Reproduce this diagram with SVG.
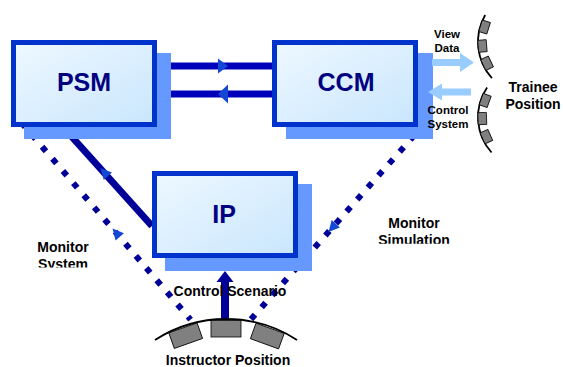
<svg xmlns="http://www.w3.org/2000/svg" width="563" height="367" viewBox="0 0 563 367">
  <defs>
    <linearGradient id="boxFill" x1="0" y1="0" x2="1" y2="1">
      <stop offset="0" stop-color="#eef8ff"/>
      <stop offset="1" stop-color="#c9e6fd"/>
    </linearGradient>
    <clipPath id="clipSystem"><rect x="0" y="230" width="140" height="37.5"/></clipPath>
    <clipPath id="clipSimulation"><rect x="340" y="200" width="140" height="43.8"/></clipPath>
    <path id="head" d="M6,0 L-5,-5.5 L-5,5.5 Z"/>
  </defs>
  <style>
    .shadow{fill:#6699ff}
    .box{fill:url(#boxFill);stroke:#0033cc;stroke-width:5}
    .title{font-family:"Liberation Sans",Arial,sans-serif;font-weight:bold;font-size:25px;fill:#000080;text-anchor:middle}
    .label{font-family:"Liberation Sans",Arial,sans-serif;font-weight:bold;font-size:14px;fill:#000;text-anchor:middle}
    .small{font-size:11.5px}
    .link{fill:none;stroke:#0000bb;stroke-width:7}
    .diag{fill:none;stroke:#000099;stroke-width:7}
    .dots{fill:none;stroke:#000099;stroke-width:6;stroke-dasharray:6 10}
    .head{fill:#1447d4}
    .navy{fill:#000099}
    .light{fill:#99ccff}
    .seat{fill:#808080;stroke:#000;stroke-width:0.8}
    .rim{fill:none;stroke:#000;stroke-width:1.8}
  </style>

  <!-- connectors (drawn beneath the boxes) -->
  <g id="connectors">
    <!-- PSM <-> CCM -->
    <path class="link" d="M171,66 H272"/>
    <path class="head" d="M218,58.5 L228,66 L218,73.5 Z"/>
    <path class="link" d="M171,94 H272"/>
    <path class="head" d="M218,94 L228,84.5 L228,103.5 Z"/>
    <!-- IP -> PSM -->
    <path class="diag" d="M63,127 L152,226"/>
    <use href="#head" class="head" transform="translate(104.5,172.5) rotate(228)"/>
    <!-- Monitor System -->
    <path class="dots" d="M21.2,122.4 L190.6,319.6"/>
    <use href="#head" class="head" transform="translate(116.5,233) rotate(229.3)"/>
    <!-- Monitor Simulation -->
    <path class="dots" d="M414.3,135.2 L250.3,320"/>
    <use href="#head" class="head" transform="translate(332.5,227.5) rotate(131.6)"/>
    <!-- Control Scenario -->
    <path d="M225,319 V281" fill="none" stroke="#000099" stroke-width="8"/>
    <path class="navy" d="M225,271 L233.5,282 L216.5,282 Z"/>
  </g>

  <g id="psm">
    <rect class="shadow" x="24" y="53" width="147" height="86"/>
    <rect class="box" x="13.5" y="42.5" width="141" height="82"/>
    <text class="title" x="84" y="90.5">PSM</text>
  </g>

  <g id="ccm">
    <rect class="shadow" x="286" y="53" width="147" height="86"/>
    <rect class="box" x="274.5" y="42.5" width="141" height="82"/>
    <text class="title" x="346" y="90.5">CCM</text>
  </g>

  <g id="ip">
    <rect class="shadow" x="165" y="184" width="147" height="87"/>
    <rect class="box" x="154.5" y="173.5" width="141" height="82"/>
    <text class="title" x="224" y="223">IP</text>
  </g>

  <!-- CCM <-> trainee data flows -->
  <g id="trainee-links">
    <path class="light" d="M432,59 H460 V53 L474,62.5 L460,72 V66 H432 Z"/>
    <path class="light" d="M471,88.5 H442 V83.5 L428,92 L442,100.5 V95.5 H471 Z"/>
  </g>

  <g id="trainee">
    <g transform="translate(532,42)">
      <path class="rim" d="M-46.8,-27 A54,54 0 0 0 -40.1,36.1"/>
      <rect class="seat" x="-54" y="-6" width="8.5" height="12" transform="rotate(17.5)"/>
      <rect class="seat" x="-54" y="-6" width="8.5" height="12" transform="rotate(-4.6)"/>
      <rect class="seat" x="-54" y="-6" width="8.5" height="12" transform="rotate(-25.3)"/>
    </g>
    <g transform="translate(531,117)">
      <path class="rim" d="M-43.9,-29.6 A53,53 0 0 0 -39.4,35.5"/>
      <rect class="seat" x="-53" y="-6" width="8.5" height="12" transform="rotate(19.8)"/>
      <rect class="seat" x="-53" y="-6" width="8.5" height="12" transform="rotate(-1.8)"/>
      <rect class="seat" x="-53" y="-6" width="8.5" height="12" transform="rotate(-23.8)"/>
    </g>
    <text class="label" x="533" y="92">Trainee</text>
    <text class="label" x="533" y="109">Position</text>
  </g>

  <g id="instructor">
    <path class="rim" d="M155,340 A130.5,130.5 0 0 1 297,340"/>
    <g transform="translate(226,449.5)">
      <rect class="seat" x="-15" y="-129" width="30" height="16.5" transform="rotate(-19.5)"/>
      <rect class="seat" x="-15" y="-129" width="30" height="16.5"/>
      <rect class="seat" x="-15" y="-129" width="30" height="16.5" transform="rotate(20)"/>
    </g>
    <text class="label" x="228" y="364.5">Instructor Position</text>
  </g>

  <!-- flow labels -->
  <g id="labels">
    <text class="label small" x="447" y="38">View</text>
    <text class="label small" x="447" y="52">Data</text>
    <text class="label small" x="448" y="114">Control</text>
    <text class="label small" x="448" y="128">System</text>
    <text class="label" x="63" y="251.5">Monitor</text>
    <text class="label" x="63" y="268.5" clip-path="url(#clipSystem)">System</text>
    <text class="label" x="414" y="228">Monitor</text>
    <text class="label" x="414" y="245" clip-path="url(#clipSimulation)">Simulation</text>
    <text class="label" x="230" y="295.5">Control Scenario</text>
  </g>
</svg>
